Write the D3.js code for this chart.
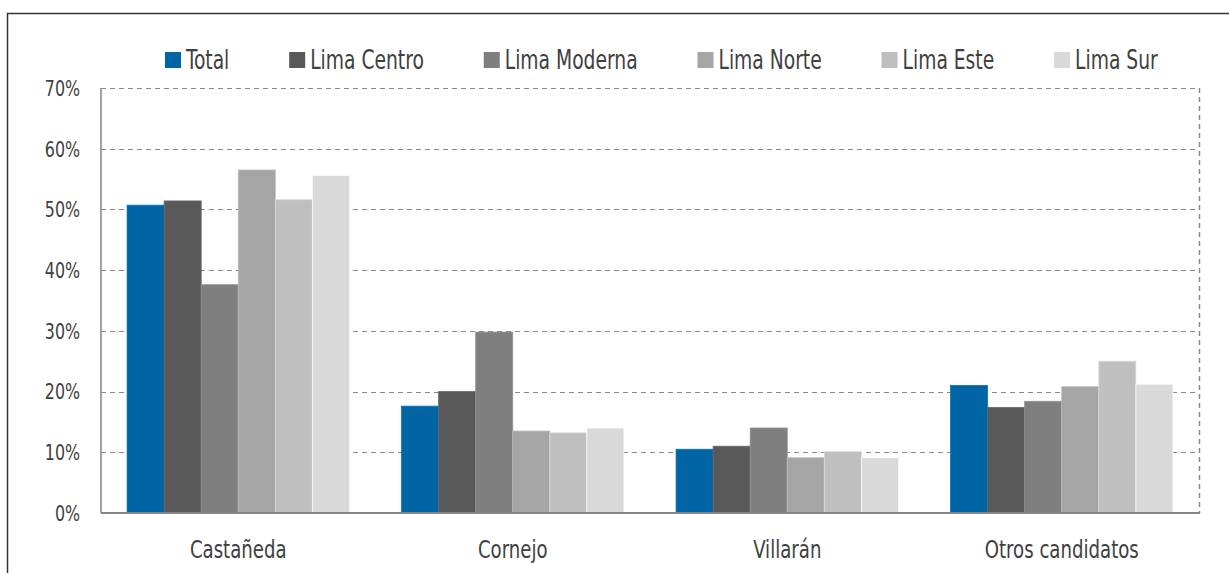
<!DOCTYPE html>
<html>
<head>
<meta charset="utf-8">
<script src="https://cdn.jsdelivr.net/npm/d3@7"></script>
<style>
  body { margin: 0; background: #fff; }
  svg text { font-family: "DejaVu Sans Condensed", "DejaVu Sans", sans-serif; font-stretch: condensed; fill: #404040; }
</style>
</head>
<body>
<svg id="chart" width="1229" height="573"></svg>
<script>
// candidates on the x axis
var candidates = ['Castañeda', 'Cornejo', 'Villarán', 'Otros candidatos'];
// zones (legend)
var zones = ['Total', 'Lima Centro', 'Lima Moderna', 'Lima Norte', 'Lima Este', 'Lima Sur'];
var zoneColors = ['#0064a5', '#595959', '#7f7f7f', '#a5a5a5', '#bfbfbf', '#d9d9d9'];

// percentages per zone, one value per candidate
var total      = [50.7, 17.6, 10.5, 21.0];
var limaCentro = [51.4, 20.0, 11.0, 17.4];
var limaModerna= [37.6, 29.8, 14.0, 18.4];
var limaNorte  = [56.5, 13.5,  9.1, 20.8];
var limaEste   = [51.6, 13.2, 10.1, 25.0];
var limaSur    = [55.6, 14.0,  9.1, 21.2];
var series = [total, limaCentro, limaModerna, limaNorte, limaEste, limaSur];

var yTicks = [0, 10, 20, 30, 40, 50, 60, 70];

var svg = d3.select('#chart');
var margin = {left: 101, right: 30, top: 88, bottom: 60},
    width = 1229,
    height = 573;

// squeeze text horizontally, the original font is a narrow one
function narrowText(sel, size, sx) {
    return sel.append('text')
        .attr('transform', 'scale(' + sx + ',1)')
        .style('font-size', size + 'px');
}

// outer frame (cut by the picture edge)
svg.append('rect')
    .attr('x', 7.5).attr('y', 13.5)
    .attr('width', 1300).attr('height', 700)
    .attr('fill', 'none')
    .attr('stroke', '#333')
    .attr('stroke-width', 1.5);

var x0 = d3.scaleBand()
    .domain(candidates)
    .range([margin.left, width - margin.right])
    .paddingInner(0.19)
    .paddingOuter(0.095);

var x1 = d3.scaleBand()
    .domain(zones)
    .range([0, x0.bandwidth()]);

var y = d3.scaleLinear()
    .domain([0, 70])
    .range([height - margin.bottom, margin.top]);

var color = d3.scaleOrdinal().domain(zones).range(zoneColors);

// grid lines
svg.append('g')
    .selectAll('line')
    .data(yTicks.filter(function(d) { return d > 0; }))
    .enter().append('line')
    .attr('x1', margin.left)
    .attr('x2', width - margin.right)
    .attr('y1', function(d) { return Math.round(y(d)) + 0.5; })
    .attr('y2', function(d) { return Math.round(y(d)) + 0.5; })
    .attr('stroke', '#8a8a8a')
    .attr('stroke-dasharray', '5,4');

// right dashed border of plot
svg.append('line')
    .attr('x1', width - margin.right + 0.5)
    .attr('x2', width - margin.right + 0.5)
    .attr('y1', y(70))
    .attr('y2', y(0))
    .attr('stroke', '#8a8a8a')
    .attr('stroke-width', 1.5)
    .attr('stroke-dasharray', '5,4');

// bars
var rows = candidates.map(function(c, i) {
    return zones.map(function(z, j) { return {cand: c, zone: z, value: series[j][i]}; });
});

svg.append('g')
    .selectAll('g')
    .data(rows)
    .enter().append('g')
    .attr('transform', function(d, i) { return 'translate(' + x0(candidates[i]) + ',0)'; })
    .selectAll('rect')
    .data(function(d) { return d; })
    .enter().append('rect')
    .attr('x', function(d) { return x1(d.zone); })
    .attr('width', x1.bandwidth())
    .attr('y', function(d) { return y(d.value); })
    .attr('height', function(d) { return y(0) - y(d.value); })
    .attr('fill', function(d) { return color(d.zone); })
    .attr('stroke', function(d) { return d3.color(color(d.zone)).brighter(0.4); })
    .attr('stroke-width', 0.8);

// axes lines
svg.append('line')
    .attr('x1', margin.left).attr('x2', margin.left)
    .attr('y1', y(70)).attr('y2', y(0))
    .attr('stroke', '#868686').attr('stroke-width', 1.5);

svg.append('line')
    .attr('x1', margin.left).attr('x2', width - margin.right + 1)
    .attr('y1', y(0)).attr('y2', y(0))
    .attr('stroke', '#868686').attr('stroke-width', 2);

// y tick labels
svg.append('g')
    .selectAll('g')
    .data(yTicks)
    .enter().append('g')
    .attr('transform', function(d) { return 'translate(80,' + y(d) + ')'; })
    .call(function(g) {
        narrowText(g, 22, 0.8)
            .attr('dy', '0.36em')
            .attr('text-anchor', 'end')
            .text(function(d) { return d + '%'; });
    });

// x labels
svg.append('g')
    .selectAll('g')
    .data(candidates)
    .enter().append('g')
    .attr('transform', function(d) { return 'translate(' + (x0(d) + x0.bandwidth() / 2) + ',558)'; })
    .call(function(g) {
        narrowText(g, 24, 0.84)
            .attr('text-anchor', 'middle')
            .text(function(d) { return d; });
    });

// legend
var legend = svg.append('g');
var items = legend.selectAll('g')
    .data(zones)
    .enter().append('g');

items.append('rect')
    .attr('width', 16).attr('height', 16)
    .attr('y', 52)
    .attr('fill', function(d) { return color(d); });

items.append('g')
    .attr('transform', 'translate(21,60)')
    .call(function(g) {
        narrowText(g, 26, 0.8)
            .attr('dy', '0.36em')
            .text(function(d) { return d; });
    });

var widths = [];
items.each(function() { widths.push(this.getBBox().width); });
var start = 165, end = 1158;
var gap = (end - start - d3.sum(widths)) / (zones.length - 1);
var pos = start;
items.attr('transform', function(d, i) {
    var t = 'translate(' + pos + ',0)';
    pos += widths[i] + gap;
    return t;
});
</script>
</body>
</html>
